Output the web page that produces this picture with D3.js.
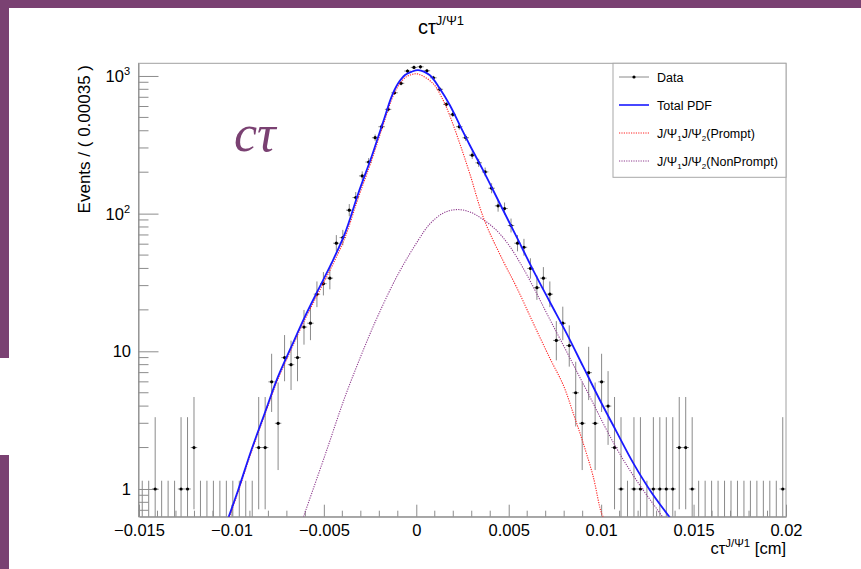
<!DOCTYPE html>
<html><head><meta charset="utf-8">
<script src="https://cdn.jsdelivr.net/npm/d3@7/dist/d3.min.js"></script>
<style>
html,body{margin:0;padding:0;background:#fff;}
svg{display:block;font-family:"Liberation Sans",Arial,Helvetica,sans-serif;}
</style></head>
<body>
<svg id="chart" width="861" height="569"></svg>
<script>
// ---------------- data ----------------
const xMin = -0.015, xMax = 0.02, binWidth = 0.00035;
// event counts per bin (100 bins of 0.00035 cm from -0.015 to 0.02)
const counts = [
  0,0,1,0,0,0,1,1,2,0,
  0,0,0,0,0,0,0,0,2,2,
  6,3,9,8,9,15,16,26,31,34,
  61,67,106,131,188,237,356,428,572,755,
  884,1086,1154,1166,1091,970,800,622,526,428,
  356,266,234,201,153,114,109,82,61,57,
  40,29,34,26,12,16,11,5,3,7,
  3,6,4,2,1,0,1,1,0,1,
  1,1,1,2,2,1,0,0,0,0,
  0,0,0,0,0,0,0,0,0,1
];
// Total PDF
const totalX = [-0.0102,-0.00964,-0.00892,-0.0082,-0.00748,-0.00676,-0.00603,-0.00531,-0.00459,-0.00386,-0.00314,-0.00242,-0.00206,-0.0017,-0.00134,-0.00098,-0.00061,-0.00025,0.0001,0.00072,0.00126,0.00181,0.00235,0.00289,0.00361,0.00451,0.00542,0.00632,0.00722,0.00813,0.00903,0.00993,0.01083,0.01174,0.01264,0.0138];
const totalY = [0.6,0.98,1.92,3.55,6.54,10.8,17.8,27.9,43.5,71.9,140,259,362,506,706,884,1015,1073,1104,1015,813,615,440,315,207,119,68,38.9,22.9,13.5,7.73,4.43,2.61,1.54,0.98,0.6];
// Prompt component
const promptX = [-0.0102,-0.00964,-0.00892,-0.0082,-0.00748,-0.00676,-0.00603,-0.00531,-0.00459,-0.00386,-0.00314,-0.00242,-0.00206,-0.0017,-0.00134,-0.00098,-0.00061,-0.00025,0.0001,0.0009,0.00145,0.0018,0.00235,0.00289,0.00368,0.0047,0.00542,0.00632,0.00722,0.00795,0.00849,0.00903,0.00957,0.01002,0.0102];
const promptY = [0.58,0.95,1.86,3.45,6.3,10.4,17.0,26.3,40.8,67,130,243,342,480,670,845,970,1025,1032,884,668,520,324,196,89.8,45.3,29.3,16.1,8.94,5.69,3.55,2.15,1.23,0.666,0.6];
// NonPrompt component
const npX = [-0.0061,-0.00495,-0.00386,-0.00278,-0.00206,-0.00098,0.00011,0.00072,0.00145,0.00217,0.00289,0.00361,0.00433,0.00505,0.00578,0.0065,0.00722,0.00795,0.00867,0.00939,0.01011,0.01083,0.01155,0.01228,0.013,0.01372];
const npY = [0.63,1.74,4.65,10.9,18.3,36.4,64.2,83.8,100.8,107,103,90.7,75.9,58.0,40.2,26.5,17.1,11.1,7.19,4.68,3.0,1.98,1.37,0.98,0.72,0.53];

const xTickValues = [-0.015,-0.01,-0.005,0,0.005,0.01,0.015,0.02];
const xTickLabels = ["\u22120.015","\u22120.01","\u22120.005","0","0.005","0.01","0.015","0.02"];
const yTickValues = [1,10,100,1000];
const yTickBase = ["1","10","10","10"];
const yTickExp = ["","","2","3"];
const legendLabels = ["Data","Total PDF","Prompt","NonPrompt"];

// ---------------- layout ----------------
const L = 138.5, R = 786, T = 63.3, B = 516.7;
const svg = d3.select("#chart");
const x = d3.scaleLinear().domain([xMin, xMax]).range([139, R]);
const y = d3.scaleLog().domain([0.629, 1236]).range([B, T]);
const purple = "#7a4172";
const axisCol = "#8c8c8c";

// slide decoration
svg.append("rect").attr("x",0).attr("y",0).attr("width",861).attr("height",8).attr("fill",purple);
svg.append("rect").attr("x",0).attr("y",0).attr("width",9).attr("height",358).attr("fill",purple);
svg.append("rect").attr("x",0).attr("y",455).attr("width",9).attr("height",114).attr("fill",purple);

// clip
svg.append("clipPath").attr("id","clip").append("rect")
  .attr("x",L).attr("y",T).attr("width",R-L).attr("height",B-T);

// frame
svg.append("rect").attr("x",L).attr("y",T).attr("width",R-L).attr("height",B-T)
  .attr("fill","none").attr("stroke","#a0a0a0").attr("stroke-width",1);

// x axis
const xAxis = d3.axisBottom(x).tickValues(xTickValues)
  .tickFormat((d,i)=>xTickLabels[i]).tickSizeInner(-12).tickSizeOuter(0).tickPadding(8);
const gx = svg.append("g").attr("transform",`translate(0,${B})`).call(xAxis);
gx.select(".domain").attr("stroke",axisCol);
gx.selectAll(".tick line").attr("stroke",axisCol);
gx.selectAll("text").attr("font-size",16.5).attr("fill","#000")
  .attr("font-family","Liberation Sans, Arial, sans-serif");
// x minor ticks
const xMinor = d3.range(-15,21).map(k=>k*0.001).filter(v=>Math.abs(Math.round(v*1000))%5!==0);
svg.append("g").selectAll("line").data(xMinor).join("line")
  .attr("x1",d=>x(d)).attr("x2",d=>x(d)).attr("y1",B).attr("y2",B-6)
  .attr("stroke",axisCol);

// y axis
const yAxis = d3.axisLeft(y).tickValues(yTickValues).tickFormat("").tickSizeInner(-20).tickSizeOuter(0);
const gy = svg.append("g").attr("transform",`translate(${L},0)`).call(yAxis);
gy.select(".domain").attr("stroke",axisCol);
gy.selectAll(".tick line").attr("stroke",axisCol);
const yMinor = [0.7,0.8,0.9,2,3,4,5,6,7,8,9,20,30,40,50,60,70,80,90,200,300,400,500,600,700,800,900];
svg.append("g").selectAll("line").data(yMinor).join("line")
  .attr("x1",L).attr("x2",L+10).attr("y1",d=>y(d)).attr("y2",d=>y(d)).attr("stroke",axisCol);
// y tick labels
yTickValues.forEach((v,i)=>{
  const t = svg.append("text").attr("y",y(v)+6).attr("font-size",16.5).attr("fill","#000");
  if(yTickExp[i]){
    t.attr("x",130).attr("text-anchor","end");
    t.append("tspan").text(yTickBase[i]);
    t.append("tspan").attr("dy",-7).attr("font-size",11).text(yTickExp[i]);
  } else {
    t.attr("x",131).attr("text-anchor","end").text(yTickBase[i]);
  }
});

// axis titles
svg.append("text").attr("transform","translate(90,65) rotate(-90)")
  .attr("text-anchor","end").attr("font-size",17).text("Events / ( 0.00035 )");
const xt = svg.append("text").attr("x",R).attr("y",554).attr("text-anchor","end").attr("font-size",16.5);
xt.append("tspan").text("c\u03C4");
xt.append("tspan").attr("dy",-7).attr("font-size",11.5).text("J/\u03A81");
xt.append("tspan").attr("dy",7).text(" [cm]");

// main title
const tt = svg.append("text").attr("x",441).attr("y",34).attr("text-anchor","middle").attr("font-size",20);
tt.append("tspan").text("c\u03C4");
tt.append("tspan").attr("dy",-9).attr("font-size",13).text("J/\u03A81");

// ---------------- data points ----------------
const bins = counts.map((n,i)=>{
  const c = xMin + binWidth*(i+0.5);
  let lo, hi;
  if(n===0){ lo = 0; hi = 1.148; }
  else {
    hi = n + 1 + Math.sqrt(n+0.75);
    lo = n*Math.pow(1 - 1/(9*n) - 1/(3*Math.sqrt(n)),3);
  }
  return {c, n, lo, hi};
});
const yc = v => v<=0 ? B+5 : y(v);
const gData = svg.append("g").attr("clip-path","url(#clip)");
gData.selectAll("line.v").data(bins).join("line").attr("class","v")
  .attr("x1",d=>x(d.c)).attr("x2",d=>x(d.c))
  .attr("y1",d=>yc(d.lo)).attr("y2",d=>yc(d.hi))
  .attr("stroke","#8a8a8a").attr("stroke-width",1);
const nz = bins.filter(d=>d.n>0);
gData.selectAll("line.h").data(nz).join("line").attr("class","h")
  .attr("x1",d=>x(d.c-binWidth/2)).attr("x2",d=>x(d.c+binWidth/2))
  .attr("y1",d=>y(d.n)).attr("y2",d=>y(d.n))
  .attr("stroke","#8a8a8a").attr("stroke-width",1);

// ---------------- curves ----------------
const line = d3.line().x(d=>x(d[0])).y(d=>y(d[1])).curve(d3.curveCatmullRom.alpha(0.5));
const gCurves = svg.append("g").attr("clip-path","url(#clip)");
gCurves.append("path").datum(npX.map((v,i)=>[v,npY[i]])).attr("d",line)
  .attr("fill","none").attr("stroke","#8e3b8e").attr("stroke-width",1.1).attr("stroke-dasharray","1.2,1.2");
gCurves.append("path").datum(promptX.map((v,i)=>[v,promptY[i]])).attr("d",line)
  .attr("fill","none").attr("stroke","#ff2020").attr("stroke-width",1.1).attr("stroke-dasharray","1.2,1.2");
gCurves.append("path").datum(totalX.map((v,i)=>[v,totalY[i]])).attr("d",line)
  .attr("fill","none").attr("stroke","#1a1aff").attr("stroke-width",1.8);

// markers on top
gData.selectAll("circle").data(nz).join("circle")
  .attr("cx",d=>x(d.c)).attr("cy",d=>y(d.n)).attr("r",1.6).attr("fill","#000");

// ---------------- legend ----------------
const lg = svg.append("g");
lg.append("rect").attr("x",613).attr("y",T).attr("width",173).attr("height",114)
  .attr("fill","#fff").attr("stroke","#a8a8a8").attr("stroke-width",1);
const rows = [77,105,133,161];
const lx1 = 619, lx2 = 649, tx = 657;
lg.append("line").attr("x1",lx1).attr("x2",lx2).attr("y1",rows[0]).attr("y2",rows[0]).attr("stroke","#8a8a8a");
lg.append("circle").attr("cx",(lx1+lx2)/2).attr("cy",rows[0]).attr("r",1.6).attr("fill","#000");
lg.append("line").attr("x1",lx1).attr("x2",lx2).attr("y1",rows[1]).attr("y2",rows[1]).attr("stroke","#1a1aff").attr("stroke-width",1.6);
lg.append("line").attr("x1",lx1).attr("x2",lx2).attr("y1",rows[2]).attr("y2",rows[2]).attr("stroke","#ff2020").attr("stroke-dasharray","1.2,1.2");
lg.append("line").attr("x1",lx1).attr("x2",lx2).attr("y1",rows[3]).attr("y2",rows[3]).attr("stroke","#8e3b8e").attr("stroke-dasharray","1.2,1.2");
const fs = 12.5;
lg.append("text").attr("x",tx).attr("y",rows[0]+4.5).attr("font-size",fs).text(legendLabels[0]);
lg.append("text").attr("x",tx).attr("y",rows[1]+4.5).attr("font-size",fs).text(legendLabels[1]);
[2,3].forEach(k=>{
  const t = lg.append("text").attr("x",tx).attr("y",rows[k]+4.5).attr("font-size",fs);
  t.append("tspan").text("J/\u03A8");
  t.append("tspan").attr("dy",3).attr("font-size",8).text("1");
  t.append("tspan").attr("dy",-3).text("J/\u03A8");
  t.append("tspan").attr("dy",3).attr("font-size",8).text("2");
  t.append("tspan").attr("dy",-3).text("(" + legendLabels[k] + ")");
});

// big annotation
svg.append("text").attr("x",234).attr("y",151).attr("font-family","Liberation Serif, DejaVu Serif, serif")
  .attr("font-style","italic").attr("font-size",52).attr("fill",purple).text("c\u03C4");
</script>
</body></html>
